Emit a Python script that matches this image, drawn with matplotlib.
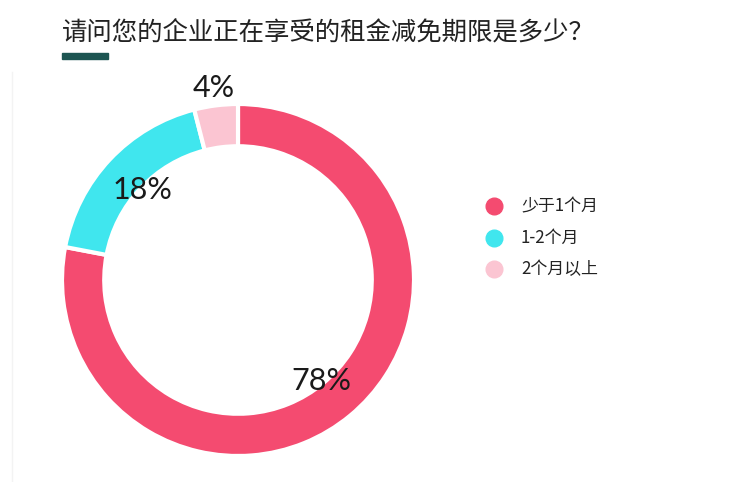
import numpy as np
import matplotlib.pyplot as plt
from matplotlib.lines import Line2D

plt.rcParams['font.family'] = ['Noto Sans CJK SC', 'DejaVu Sans']

title = "请问您的企业正在享受的租金减免期限是多少？"
categories = ["少于1个月", "1-2个月", "2个月以上"]
shares = [78, 18, 4]
colors = ["#F44B70", "#40E6EE", "#FBC5D2"]

W, H = 750, 482
fig = plt.figure(figsize=(W / 100, H / 100), dpi=100)
fig.patch.set_facecolor("white")

# pie axes: centre at (238, 280) px, radius 176 px
cx, cy, r_px, half = 238, 280, 176, 200
ax = fig.add_axes([(cx - half) / W, (H - cy - half) / H, 2 * half / W, 2 * half / H])
lim = half / r_px

wedges, _ = ax.pie(shares, colors=colors, startangle=90, counterclock=False,
                   radius=1.0, wedgeprops=dict(width=0.24, edgecolor="white", linewidth=3))
ax.set_xlim(-lim, lim)
ax.set_ylim(-lim, lim)
ax.set_aspect("equal")
ax.axis("off")

for w, s in zip(wedges, shares):
    ang = np.deg2rad((w.theta1 + w.theta2) / 2)
    rr = 1.1 if s < 10 else 0.745
    ax.text(rr * np.cos(ang), rr * np.sin(ang), f"{s}%", ha="center", va="center",
            fontsize=22, color="#1a1a1a", family=["Lato", "DejaVu Sans"])

# title and accent bar
fig.text(62 / W, 1 - 33 / H, title, fontsize=18.3, color="#222222", ha="left", va="center")
fig.add_artist(plt.Rectangle((62 / W, 1 - 59 / H), 46 / W, 6 / H, color="#1D5552",
                             transform=fig.transFigure))
# faint frame line
fig.add_artist(Line2D([12 / W, 12 / W], [0, 1 - 72 / H], color="#F3F3F3", lw=1,
                      transform=fig.transFigure))

# legend
for i, (c, lab) in enumerate(zip(colors, categories)):
    y = 1 - (206 + i * 31.5) / H
    fig.add_artist(Line2D([494 / W], [y], marker="o", markersize=12, color=c,
                          transform=fig.transFigure))
    fig.text(521 / W, y, lab, fontsize=12.2, fontweight="medium", color="#222222",
             ha="left", va="center")

fig.savefig("out.png", dpi=100, facecolor="white")
